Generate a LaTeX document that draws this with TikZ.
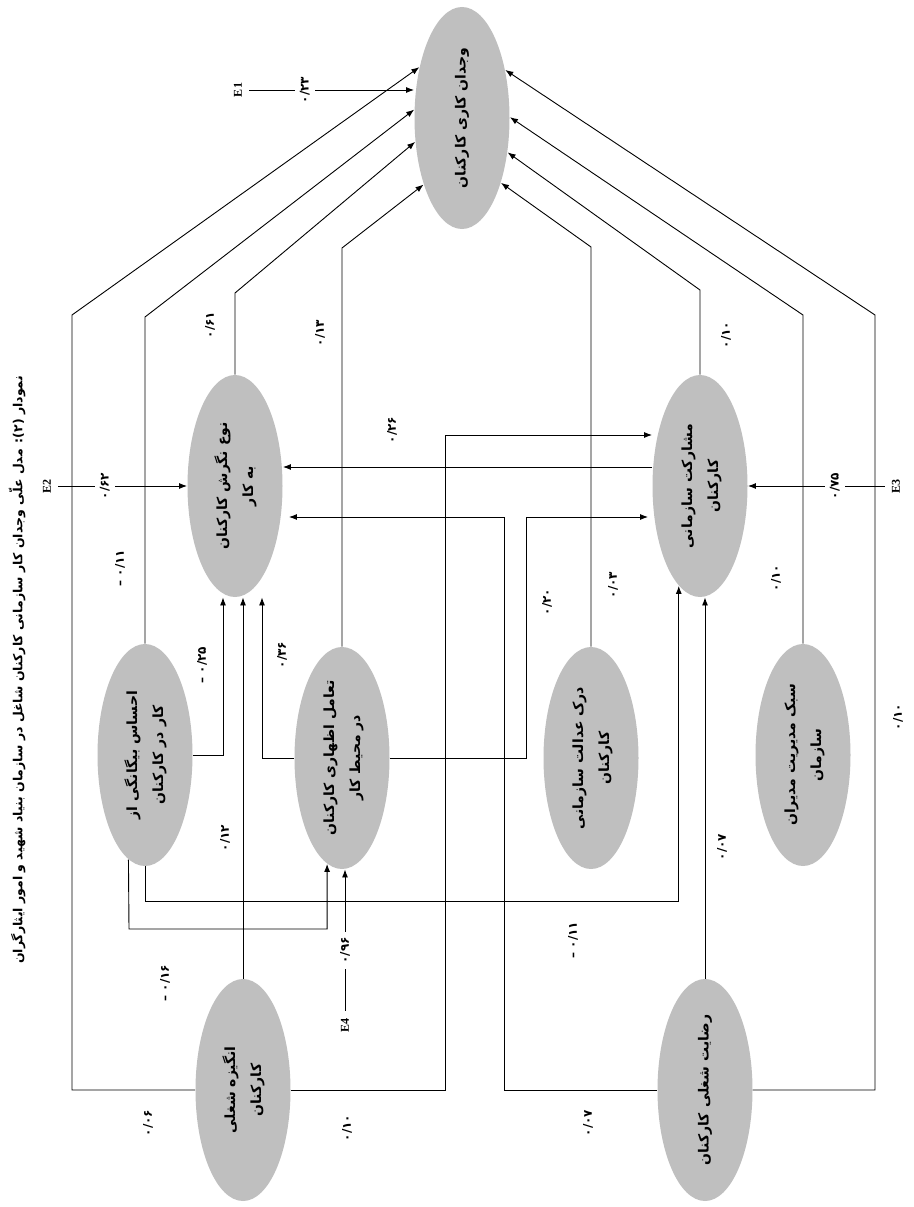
\documentclass[tikz,border=0pt]{standalone}
\usepackage{graphicx}
\usepackage{fontspec}
\newfontfamily\farsi[Script=Arabic]{DejaVu Sans}
\newfontfamily\latinserif{Liberation Serif}
\TeXXeTstate=1
\usetikzlibrary{shapes.geometric,arrows.meta,positioning}
\definecolor{ellgray}{RGB}{191,191,191}

\begin{document}
\begin{tikzpicture}[x=1pt,y=-1pt,line width=0.9pt,
    factor/.style={ellipse, fill=ellgray, minimum width=95pt, minimum height=222pt, inner sep=0pt, font=\farsi\bfseries\fontsize{14}{26}\selectfont},
    coef/.style={rotate=90, inner sep=1.5pt, font=\farsi\bfseries\fontsize{12}{13}\selectfont},
    err/.style={rotate=90, inner sep=1pt, font=\latinserif\bfseries\fontsize{12}{13}\selectfont},
    gap/.style={coef, fill=white, inner sep=5pt},
    arr/.style={-{Latex[length=8pt,width=6pt]}}]
    \useasboundingbox (0,0) rectangle (913,1207);

    % Title
    \node[rotate=90, font=\farsi\bfseries\fontsize{12.5}{14}\selectfont] (title) at (17,670) {\beginR نمودار (۲): مدل علّی وجدان کار سازمانی کارکنان شاغل در سازمان بنیاد شهید و امور ایثارگران\endR};

    % Factors
    \node[factor] (wc) at (462,118) {\rotatebox{90}{\beginR وجدان کاری کارکنان\endR}};
    \node[factor] (att) at (235,486) {\rotatebox{90}{\begin{tabular}{@{}c@{}}\beginR نوع نگرش کارکنان\endR\\\beginR به کار\endR\end{tabular}}};
    \node[factor] (part) at (700,486) {\rotatebox{90}{\begin{tabular}{@{}c@{}}\beginR مشارکت سازمانی\endR\\\beginR کارکنان\endR\end{tabular}}};
    \node[factor] (alien) at (145,755) {\rotatebox{90}{\begin{tabular}{@{}c@{}}\beginR احساس بیگانگی از\endR\\\beginR کار در کارکنان\endR\end{tabular}}};
    \node[factor] (inter) at (342,758) {\rotatebox{90}{\begin{tabular}{@{}c@{}}\beginR تعامل اظهاری کارکنان\endR\\\beginR در محیط کار\endR\end{tabular}}};
    \node[factor] (just) at (591,758) {\rotatebox{90}{\begin{tabular}{@{}c@{}}\beginR درک عدالت سازمانی\endR\\\beginR کارکنان\endR\end{tabular}}};
    \node[factor] (style) at (803,755) {\rotatebox{90}{\begin{tabular}{@{}c@{}}\beginR سبک مدیریت مدیران\endR\\\beginR سازمان\endR\end{tabular}}};
    \node[factor] (motiv) at (243,1090) {\rotatebox{90}{\begin{tabular}{@{}c@{}}\beginR انگیزه شغلی\endR\\\beginR کارکنان\endR\end{tabular}}};
    \node[factor] (sat) at (705,1090) {\rotatebox{90}{\beginR رضایت شغلی کارکنان\endR}};

    % Paths to the top factor
    \draw[arr] (motiv.west) -| (72,315) -- (wc.130);
    \draw[arr] (alien.north) -- (145,317) -- (wc.170);
    \draw[arr] (att.north) -- (235,293) -- (wc.207);
    \draw[arr] (inter.north) -- (342,248) -- (wc.240);
    \draw[arr] (just.north) -- (591,247) -- (wc.301);
    \draw[arr] (part.north) -- (700,290) -- (wc.323);
    \draw[arr] (style.north) -- (803,315) -- (wc.1);
    \draw[arr] (sat.east) -| (875,315) -- (wc.48);

    % Paths between the other factors
    \draw[arr] (motiv.north) -- (motiv.north |- att.south);
    \draw[arr] (alien.east) -| ([xshift=-12pt]att.south);
    \draw[arr] (inter.west) -| ([xshift=27pt]att.south);
    \draw[arr] (alien.261) -- (129,929) -| (inter.262);
    \draw[arr] (alien.south) -- (145,901) -| (part.258);
    \draw[arr] (motiv.east) -- (445,1090) -- (445,435) -- ([yshift=51pt]part.west);
    \draw[arr] ([yshift=19pt]part.west) -- ([yshift=19pt]att.east);
    \draw[arr] (sat.west) -- (504,1090) -- (504,517) -- ([xshift=6pt,yshift=-31pt]att.east);
    \draw[arr] (inter.east) -- (526,758) -- (526,517) -- ([xshift=-4pt,yshift=-31pt]part.west);
    \draw[arr] (sat.north) -- (sat.north |- part.south);

    % Error terms
    \node[err] (e1) at (238,90) {E1};
    \node[err] (e2) at (47,486) {E2};
    \node[err] (e3) at (896,486) {E3};
    \node[err] (e4) at (345,1025) {E4};
    \draw[arr, shorten <=6pt] (e1) -- node[gap, pos=0.36] (b23) {۰/۲۳} (e1 -| wc.west);
    \draw[arr, shorten <=6pt] (e2) -- node[gap, pos=0.39] (b62) {۰/۶۲} (e2 -| att.west);
    \draw[arr, shorten <=6pt] (e3) -- node[gap, pos=0.39] (b75) {۰/۷۵} (e3 -| part.east);
    \draw[arr, shorten <=6pt] (e4) -- node[gap, pos=0.45] (b96) {۰/۹۶} (e4 |- inter.south);

    % Coefficients
    \node[coef] (b61) at (210,325) {۰/۶۱};
    \node[coef] (b13) at (320,333) {۰/۱۳};
    \node[coef] (b10a) at (726,335) {۰/۱۰};
    \node[coef] (b26) at (392,430) {۰/۲۶};
    \node[coef] (b11a) at (120,568) {– ۰/۱۱};
    \node[coef] (b20) at (547,602) {۰/۲۰};
    \node[coef] (b03) at (613,585) {۰/۰۳};
    \node[coef] (b10b) at (776,578) {۰/۱۰};
    \node[coef] (b25) at (202,665) {– ۰/۲۵};
    \node[coef] (b36) at (282,655) {۰/۳۶};
    \node[coef] (b12) at (225,838) {۰/۱۲};
    \node[coef] (b07a) at (722,847) {۰/۰۷};
    \node[coef] (b10c) at (898,717) {۰/۱۰};
    \node[coef] (b11b) at (573,940) {– ۰/۱۱};
    \node[coef] (b16) at (165,983) {– ۰/۱۶};
    \node[coef] (b06) at (148,1123) {۰/۰۶};
    \node[coef] (b10d) at (347,1128) {۰/۱۰};
    \node[coef] (b07b) at (588,1123) {۰/۰۷};
\end{tikzpicture}
\end{document}
